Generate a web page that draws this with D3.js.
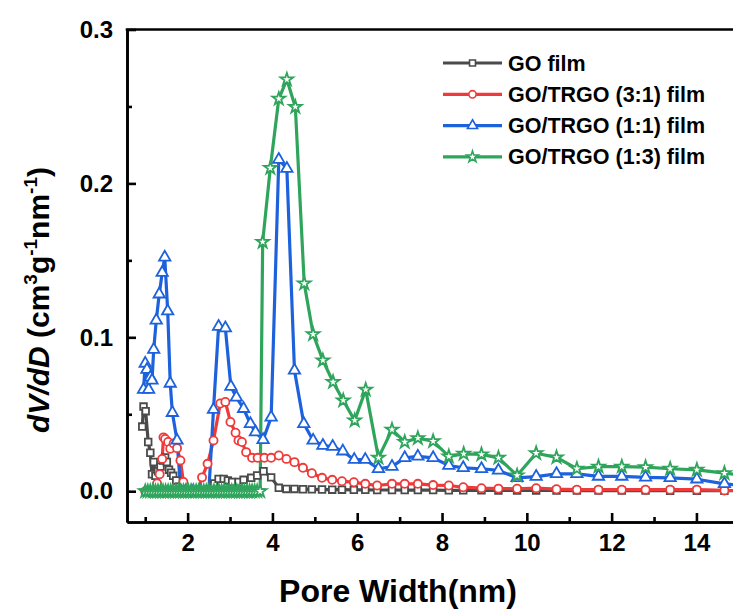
<!DOCTYPE html>
<html>
<head>
<meta charset="utf-8">
<script src="https://cdn.jsdelivr.net/npm/d3@7"></script>
<style>
  body { margin: 0; background: #fff; }
  svg { display: block; font-family: Arial, "Liberation Sans", sans-serif; }
</style>
</head>
<body>
<svg id="chart" width="733" height="609"></svg>
<script>
// pore width (nm) and dV/dD values for each film
const goX = [0.93, 0.96, 1.01, 1.07, 1.12, 1.16, 1.20, 1.24, 1.30, 1.36, 1.42, 1.47, 1.51, 1.56, 1.61, 1.66, 1.73, 1.80, 1.88, 1.96, 2.06, 2.16, 2.26, 2.36, 2.46, 2.55, 2.63, 2.73, 2.85, 2.95, 3.05, 3.20, 3.32, 3.50, 3.64, 3.79, 3.97, 4.15, 4.33, 4.52, 4.72, 4.93, 5.17, 5.41, 5.64, 5.92, 6.19, 6.47, 6.82, 7.12, 7.43, 7.79, 8.16, 8.50, 8.93, 9.33, 9.77, 10.22, 10.70, 11.18, 11.69, 12.24, 12.80, 13.38, 14.01, 14.66, 15.30];
const goY = [0.042, 0.055, 0.052, 0.032, 0.025, 0.011, 0.019, 0.010, 0.013, 0.016, 0.020, 0.022, 0.019, 0.014, 0.012, 0.010, 0.007, 0.003, 0.001, 0, 0, 0, 0, 0, 0, 0.001, 0.005, 0.008, 0.008, 0.007, 0.006, 0.006, 0.0074, 0.0087, 0.0102, 0.013, 0.009, 0.0022, 0.0015, 0.0015, 0.0013, 0.0012, 0.0011, 0.001, 0.001, 0.0009, 0.0009, 0.0008, 0.0008, 0.0007, 0.0007, 0.0007, 0.0006, 0.0006, 0.0006, 0.0005, 0.0005, 0.0005, 0.0005, 0.0004, 0.0004, 0.0004, 0.0004, 0.0003, 0.0003, 0.0003, 0.0003];

const r31X = [1.00, 1.04, 1.08, 1.12, 1.16, 1.20, 1.24, 1.28, 1.34, 1.40, 1.43, 1.47, 1.54, 1.59, 1.67, 1.75, 1.83, 1.90, 1.97, 2.05, 2.15, 2.25, 2.34, 2.47, 2.61, 2.77, 2.89, 3.01, 3.13, 3.20, 3.28, 3.38, 3.52, 3.65, 3.81, 3.97, 4.15, 4.33, 4.52, 4.72, 4.93, 5.17, 5.41, 5.64, 5.92, 6.19, 6.47, 6.82, 7.12, 7.43, 7.79, 8.16, 8.50, 8.93, 9.33, 9.77, 10.22, 10.70, 11.18, 11.69, 12.24, 12.80, 13.38, 14.01, 14.66, 15.30];
const r31Y = [0, 0, 0, 0, 0, 0, 0.001, 0.005, 0.011, 0.021, 0.035, 0.034, 0.032, 0.0276, 0.031, 0.028, 0.020, 0.006, 0.001, 0, 0, 0.001, 0.009, 0.0178, 0.033, 0.057, 0.058, 0.045, 0.038, 0.033, 0.032, 0.0254, 0.0217, 0.0217, 0.0217, 0.0217, 0.0232, 0.021, 0.0189, 0.0152, 0.0117, 0.0087, 0.0074, 0.0065, 0.0058, 0.0048, 0.0037, 0.0048, 0.0048, 0.0048, 0.004, 0.0037, 0.0026, 0.002, 0.0017, 0.0016, 0.002, 0.0013, 0.001, 0.001, 0.001, 0.001, 0.001, 0.001, 0.0005, 0.0004];

const r11X = [0.96, 1.00, 1.04, 1.08, 1.12, 1.16, 1.20, 1.26, 1.33, 1.40, 1.46, 1.53, 1.59, 1.64, 1.75, 1.84, 1.95, 2.10, 2.30, 2.50, 2.61, 2.73, 2.89, 3.02, 3.15, 3.32, 3.48, 3.60, 3.78, 3.97, 4.15, 4.34, 4.52, 4.74, 4.96, 5.19, 5.42, 5.66, 5.93, 6.19, 6.50, 6.82, 7.12, 7.43, 7.79, 8.16, 8.50, 8.93, 9.33, 9.77, 10.22, 10.70, 11.18, 11.69, 12.24, 12.80, 13.38, 14.01, 14.66, 15.30];
const r11Y = [0.066, 0.083, 0.079, 0.066, 0.074, 0.072, 0.092, 0.111, 0.128, 0.142, 0.152, 0.117, 0.070, 0.051, 0.033, 0, 0, 0, 0, 0, 0.053, 0.107, 0.106, 0.068, 0.061, 0.0536, 0.0438, 0.0384, 0.0334, 0.048, 0.2155, 0.2096, 0.0785, 0.0438, 0.033, 0.0297, 0.029, 0.026, 0.0205, 0.0205, 0.0146, 0.016, 0.0217, 0.0226, 0.0217, 0.0167, 0.0152, 0.0146, 0.0135, 0.0087, 0.0095, 0.0113, 0.0113, 0.0096, 0.0096, 0.009, 0.0087, 0.0078, 0.0048, 0.003];

const r13X = [1.00, 1.06, 1.12, 1.18, 1.24, 1.30, 1.36, 1.42, 1.48, 1.54, 1.60, 1.66, 1.72, 1.78, 1.84, 1.90, 1.96, 2.02, 2.08, 2.14, 2.20, 2.26, 2.32, 2.38, 2.44, 2.50, 2.56, 2.62, 2.68, 2.74, 2.80, 2.86, 2.92, 2.98, 3.04, 3.10, 3.16, 3.22, 3.28, 3.34, 3.40, 3.46, 3.52, 3.58, 3.64, 3.71, 3.77, 3.95, 4.15, 4.34, 4.54, 4.75, 4.96, 5.19, 5.43, 5.67, 5.94, 6.20, 6.50, 6.82, 7.12, 7.43, 7.79, 8.16, 8.51, 8.93, 9.33, 9.77, 10.22, 10.70, 11.18, 11.69, 12.24, 12.80, 13.38, 14.01, 14.66, 15.30];
const r13Y = [0, 0, 0, 0, 0, 0, 0, 0, 0, 0, 0, 0, 0, 0, 0, 0, 0, 0, 0, 0, 0, 0, 0, 0, 0, 0, 0, 0, 0, 0, 0, 0, 0, 0, 0, 0, 0, 0, 0, 0, 0, 0, 0, 0, 0, 0, 0.162, 0.210, 0.255, 0.2675, 0.2497, 0.135, 0.102, 0.085, 0.071, 0.059, 0.046, 0.066, 0.0217, 0.040, 0.032, 0.0345, 0.0325, 0.0226, 0.0243, 0.0239, 0.0217, 0.0102, 0.0247, 0.022, 0.0146, 0.016, 0.016, 0.0156, 0.0146, 0.0139, 0.0117, 0.010];

const seriesNames = ["GO film", "GO/TRGO (3:1) film", "GO/TRGO (1:1) film", "GO/TRGO (1:3) film"];
const xTicks = [2, 4, 6, 8, 10, 12, 14];
const xMinorTicks = [1, 3, 5, 7, 9, 11, 13, 15];
const yTicks = [0.0, 0.1, 0.2, 0.3];
const yMinorTicks = [0.05, 0.15, 0.25];

const series = [
  { name: seriesNames[0], xs: goX, ys: goY, color: "#4a4a4a", shape: "square" },
  { name: seriesNames[1], xs: r31X, ys: r31Y, color: "#ee3a3a", shape: "circle" },
  { name: seriesNames[2], xs: r11X, ys: r11Y, color: "#1d62dc", shape: "triangle" },
  { name: seriesNames[3], xs: r13X, ys: r13Y, color: "#2fa55c", shape: "star" }
];

const svg = d3.select("#chart");
const plotLeft = 127, plotTop = 29.5, plotBottom = 522;

const x = d3.scaleLinear().domain([0.57, 15.3]).range([plotLeft, plotLeft + 42.4 * (15.3 - 0.57)]);
const y = d3.scaleLinear().domain([-0.02, 0.3]).range([plotBottom, plotTop]);

svg.append("clipPath").attr("id", "plotclip")
  .append("rect")
  .attr("x", plotLeft).attr("y", plotTop)
  .attr("width", x.range()[1] - plotLeft).attr("height", plotBottom - plotTop);

const symbolFor = {
  square: d3.symbolSquare,
  circle: d3.symbolCircle,
  triangle: d3.symbolTriangle,
  star: d3.symbolStar
};
const sizeFor = { square: 44, circle: 52, triangle: 56, star: 50 };

const plot = svg.append("g").attr("clip-path", "url(#plotclip)");

series.forEach(s => {
  const pts = s.xs.map((v, i) => [v, s.ys[i]]);
  plot.append("path")
    .datum(pts)
    .attr("fill", "none")
    .attr("stroke", s.color)
    .attr("stroke-width", 3.2)
    .attr("stroke-linejoin", "round")
    .attr("d", d3.line().x(d => x(d[0])).y(d => y(d[1])));
});

series.forEach(s => {
  const pts = s.xs.map((v, i) => [v, s.ys[i]]);
  plot.append("g").selectAll("path")
    .data(pts)
    .enter().append("path")
    .attr("transform", d => `translate(${x(d[0])},${y(d[1])})`)
    .attr("d", d3.symbol().type(symbolFor[s.shape]).size(sizeFor[s.shape]))
    .attr("fill", "#fff")
    .attr("stroke", s.color)
    .attr("stroke-width", 1.8);
});

// axes
const axisStyle = g => {
  g.select(".domain").attr("stroke", "#000").attr("stroke-width", 2.6);
  g.selectAll(".tick line").attr("stroke", "#000").attr("stroke-width", 2.6);
  g.selectAll("text").attr("fill", "#000").attr("font-size", 24).attr("font-weight", "bold")
    .attr("font-family", "Arial, 'Liberation Sans', sans-serif");
};

svg.append("g")
  .attr("transform", `translate(0,${plotBottom})`)
  .call(d3.axisBottom(x).tickValues(xMinorTicks).tickSizeInner(-5).tickSizeOuter(0).tickFormat(""))
  .call(axisStyle);
svg.append("g")
  .attr("transform", `translate(0,${plotBottom})`)
  .call(d3.axisBottom(x).tickValues(xTicks).tickSizeInner(-9).tickSizeOuter(0).tickPadding(12))
  .call(axisStyle);

svg.append("g")
  .attr("transform", `translate(${plotLeft},0)`)
  .call(d3.axisLeft(y).tickValues(yMinorTicks).tickSizeInner(-5).tickSizeOuter(0).tickFormat(""))
  .call(axisStyle);
svg.append("g")
  .attr("transform", `translate(${plotLeft},0)`)
  .call(d3.axisLeft(y).tickValues(yTicks).tickSizeInner(-9).tickSizeOuter(0).tickPadding(14).tickFormat(d3.format(".1f")))
  .call(axisStyle);

// top border
svg.append("line")
  .attr("x1", plotLeft - 1.3).attr("x2", 760)
  .attr("y1", plotTop).attr("y2", plotTop)
  .attr("stroke", "#000").attr("stroke-width", 2.6);

// axis titles
svg.append("text")
  .attr("x", 398).attr("y", 602)
  .attr("text-anchor", "middle")
  .attr("font-size", 32).attr("font-weight", "bold")
  .text("Pore Width(nm)");

const yTitle = svg.append("text")
  .attr("transform", "translate(49,300) rotate(-90)")
  .attr("text-anchor", "middle")
  .attr("font-size", 30).attr("font-weight", "bold");
yTitle.append("tspan").attr("font-style", "italic").text("dV/dD");
yTitle.append("tspan").text(" (cm");
yTitle.append("tspan").attr("font-size", 19).attr("dy", -12).text("3");
yTitle.append("tspan").attr("dy", 12).text("g");
yTitle.append("tspan").attr("font-size", 19).attr("dy", -12).text("-1");
yTitle.append("tspan").attr("dy", 12).text("nm");
yTitle.append("tspan").attr("font-size", 19).attr("dy", -12).text("-1");
yTitle.append("tspan").attr("dy", 12).text(")");

// legend
const legend = svg.append("g").attr("transform", "translate(443,63)");
series.forEach((s, i) => {
  const row = legend.append("g").attr("transform", `translate(0,${i * 31.3})`);
  row.append("line")
    .attr("x1", 0).attr("x2", 59).attr("y1", 0).attr("y2", 0)
    .attr("stroke", s.color).attr("stroke-width", 3.2);
  row.append("path")
    .attr("transform", "translate(29.5,0)")
    .attr("d", d3.symbol().type(symbolFor[s.shape]).size(sizeFor[s.shape] * 0.8))
    .attr("fill", "#fff").attr("stroke", s.color).attr("stroke-width", 1.6);
  row.append("text")
    .attr("x", 65).attr("y", 0).attr("dy", "0.35em")
    .attr("font-size", 21.5).attr("font-weight", "bold")
    .text(s.name);
});
</script>
</body>
</html>
